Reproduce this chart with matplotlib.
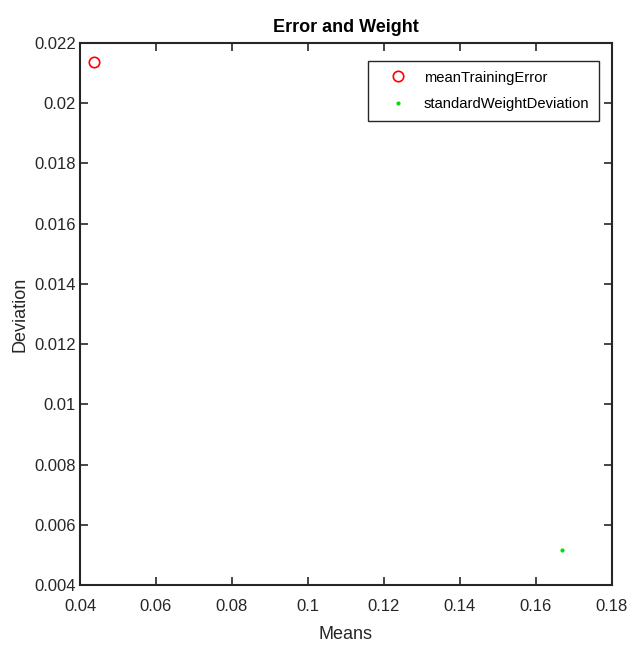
import matplotlib
matplotlib.use('Agg')
import matplotlib.pyplot as plt

plt.rcParams['font.family'] = ['Liberation Sans', 'DejaVu Sans']

# data
error_mean = [0.0438]
error_dev = [0.02136]
weight_mean = [0.1668]
weight_dev = [0.00517]

xticks = [0.04, 0.06, 0.08, 0.1, 0.12, 0.14, 0.16, 0.18]
xticklabels = ['0.04', '0.06', '0.08', '0.1', '0.12', '0.14', '0.16', '0.18']
yticks = [0.004, 0.006, 0.008, 0.01, 0.012, 0.014, 0.016, 0.018, 0.02, 0.022]
yticklabels = ['0.004', '0.006', '0.008', '0.01', '0.012', '0.014', '0.016', '0.018', '0.02', '0.022']

fig = plt.figure(figsize=(6.3, 6.46), dpi=100)
ax = fig.add_axes([0.127, 0.0944, 0.844, 0.839])

ax.plot(error_mean, error_dev, 'o', mfc='none', mec='#ff0000', ms=7.5, mew=1.2,
        label='meanTrainingError')
ax.plot(weight_mean, weight_dev, '.', color='#00e000', ms=4,
        label='standardWeightDeviation')

ax.set_xlim(0.04, 0.18)
ax.set_ylim(0.004, 0.022)
ax.set_xticks(xticks)
ax.set_xticklabels(xticklabels)
ax.set_yticks(yticks)
ax.set_yticklabels(yticklabels)
ax.tick_params(direction='in', top=True, right=True, length=6, width=1.2,
               labelsize=12, colors='#262626')
ax.tick_params(axis='x', pad=10)
ax.tick_params(axis='y', pad=3)
for s in ax.spines.values():
    s.set_linewidth(1.5)
    s.set_color('#262626')

ax.set_title('Error and Weight', fontsize=13, fontweight='bold', pad=8)
ax.set_xlabel('Means', fontsize=13, color='#262626', labelpad=9)
ax.set_ylabel('Deviation', fontsize=13, color='#262626')

leg = ax.legend(loc='upper right', bbox_to_anchor=(0.9756, 0.9668), borderaxespad=0,
                fontsize=10.6, fancybox=False, edgecolor='#262626', framealpha=1,
                borderpad=0.65, handlelength=2.7, handletextpad=0.4, labelspacing=0.85)
leg.get_frame().set_linewidth(1.0)

fig.savefig('out.png', dpi=100)
